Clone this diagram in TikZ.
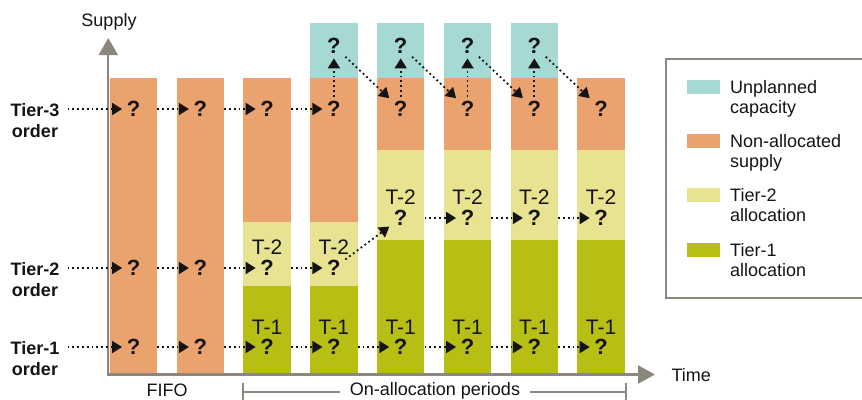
\documentclass[tikz,border=0pt]{standalone}
\usepackage{fontspec}
\setmainfont{Liberation Sans}
\usetikzlibrary{arrows.meta,calc}

\definecolor{capcyan}{RGB}{166,217,211}
\definecolor{supporange}{RGB}{234,162,111}
\definecolor{tiertwo}{RGB}{232,227,145}
\definecolor{tierone}{RGB}{183,190,20}
\definecolor{axisgray}{RGB}{140,135,125}
\definecolor{ink}{RGB}{20,20,20}

\begin{document}
\begin{tikzpicture}[x=1pt,y=-1pt,
  qmark/.style={font=\fontsize{22}{22}\selectfont\bfseries, text=ink, inner sep=4.5pt},
  tlabel/.style={font=\fontsize{21}{21}\selectfont, text=ink, inner sep=0pt},
  flow/.style={draw=ink, line width=1.8pt, dash pattern=on 1.8pt off 3pt,
               -{Triangle[length=10pt,width=12pt]}},
  gap/.style={shorten <=12.5pt},
  plain/.style={font=\fontsize{18}{20.5}\selectfont, text=ink},
  tier/.style={font=\fontsize{18}{21}\selectfont\bfseries, text=ink, align=center, inner sep=0pt, anchor=north},
  legtext/.style={font=\fontsize{18}{20.5}\selectfont, text=ink, align=left, inner sep=0pt, anchor=north west},
  axis/.style={draw=axisgray, line width=2.2pt},
  swatch/.style={fill=#1, draw=none},
  ]
\useasboundingbox (0,0) rectangle (862,399);

% ---- stacked supply columns ----
\foreach \i in {1,...,8} {
  \pgfmathsetmacro\xl{109.75+66.8*(\i-1)}
  \pgfmathsetmacro\xr{\xl+47.5}
  \ifnum\i<3
    \fill[supporange] (\xl,78) rectangle (\xr,373.5);
  \else\ifnum\i<5
    \fill[supporange] (\xl,78) rectangle (\xr,222);
    \fill[tiertwo] (\xl,222) rectangle (\xr,286);
    \fill[tierone] (\xl,286) rectangle (\xr,373.5);
  \else
    \fill[supporange] (\xl,78) rectangle (\xr,150);
    \fill[tiertwo] (\xl,150) rectangle (\xr,240);
    \fill[tierone] (\xl,240) rectangle (\xr,373.5);
  \fi\fi
  \ifnum\i>3 \ifnum\i<8
    \fill[capcyan] (\xl,23) rectangle (\xr,78);
  \fi\fi
}

% ---- axes ----
\draw[axis, -{Triangle[length=17pt,width=19pt]}] (108.3,375.6) -- (108.3,38);
\draw[axis, -{Triangle[length=17pt,width=18pt]}] (107.2,374.5) -- (655,374.5);
\node[plain, anchor=base] (supply) at (109,26) {Supply};
\node[plain, anchor=base west] (time) at (668,381) {Time};

% ---- period labels ----
\node[plain, anchor=base, inner ysep=0pt] (fifo) at (167,396) {FIFO};
\draw[draw=axisgray, line width=2pt] (243,383) -- (243,402);
\draw[draw=axisgray, line width=2pt] (625.7,383) -- (625.7,402);
\draw[draw=axisgray, line width=2pt] (243,392) -- (625.7,392);
\node[plain, anchor=base, fill=white, inner xsep=10pt, inner ysep=0pt] (onalloc) at (435,395) {On-allocation periods};

% ---- segment labels ----
\foreach \i in {3,...,8} {
  \pgfmathsetmacro\cx{133.5+66.8*(\i-1)}
  \node[tlabel] at (\cx,327) {T-1};
}
\foreach \i in {3,4} {
  \pgfmathsetmacro\cx{133.5+66.8*(\i-1)}
  \node[tlabel] at (\cx,247) {T-2};
}
\foreach \i in {5,...,8} {
  \pgfmathsetmacro\cx{133.5+66.8*(\i-1)}
  \node[tlabel] at (\cx,197) {T-2};
}

% ---- order markers ----
\foreach \i in {1,...,8} {
  \pgfmathsetmacro\cx{133.5+66.8*(\i-1)}
  \node[qmark] (a\i) at (\cx,109) {?};
  \node[qmark] (c\i) at (\cx,347) {?};
  \ifnum\i<5
    \node[qmark] (b\i) at (\cx,268) {?};
  \else
    \node[qmark] (b\i) at (\cx,218) {?};
  \fi
  \ifnum\i>3 \ifnum\i<8
    \node[qmark] (u\i) at (\cx,46) {?};
  \fi\fi
}

% ---- order tiers ----
\node[tier] (l3) at (35,103) {Tier-3\\order};
\node[tier] (l2) at (35,262) {Tier-2\\order};
\node[tier] (l1) at (35,341) {Tier-1\\order};

\draw[flow, shorten <=8pt] (l3.east |- a1) -- (a1);
\draw[flow, shorten <=8pt] (l2.east |- b1) -- (b1);
\draw[flow, shorten <=8pt] (l1.east |- c1) -- (c1);

% tier-3: first-come flow, then pulled from unplanned capacity
\foreach \i/\j in {1/2,2/3,3/4} \draw[flow, gap] (a\i) -- (a\j);
\foreach \i in {4,...,7} \draw[flow] (a\i) -- (u\i);
\foreach \i/\j in {4/5,5/6,6/7,7/8} \draw[flow] (u\i) -- (a\j);

% tier-2
\foreach \i/\j in {1/2,2/3,3/4,5/6,6/7,7/8} \draw[flow, gap] (b\i) -- (b\j);
\draw[flow] (b4) -- (b5);

% tier-1
\foreach \i/\j in {1/2,2/3,3/4,4/5,5/6,6/7,7/8} \draw[flow, gap] (c\i) -- (c\j);

% ---- legend ----
\draw[draw=axisgray, line width=1.2pt] (666,59) rectangle (875,298);
\fill[swatch=capcyan] (687,80) rectangle (720,93.5);
\fill[swatch=supporange] (687,134) rectangle (720,147.5);
\fill[swatch=tiertwo] (687,188) rectangle (720,201.5);
\fill[swatch=tierone] (687,243) rectangle (720,256.5);
\node[legtext] (k1) at (730,80) {Unplanned\\capacity};
\node[legtext] (k2) at (730,134) {Non-allocated\\supply};
\node[legtext] (k3) at (730,188) {Tier-2\\allocation};
\node[legtext] (k4) at (730,243) {Tier-1\\allocation};
\end{tikzpicture}
\end{document}
